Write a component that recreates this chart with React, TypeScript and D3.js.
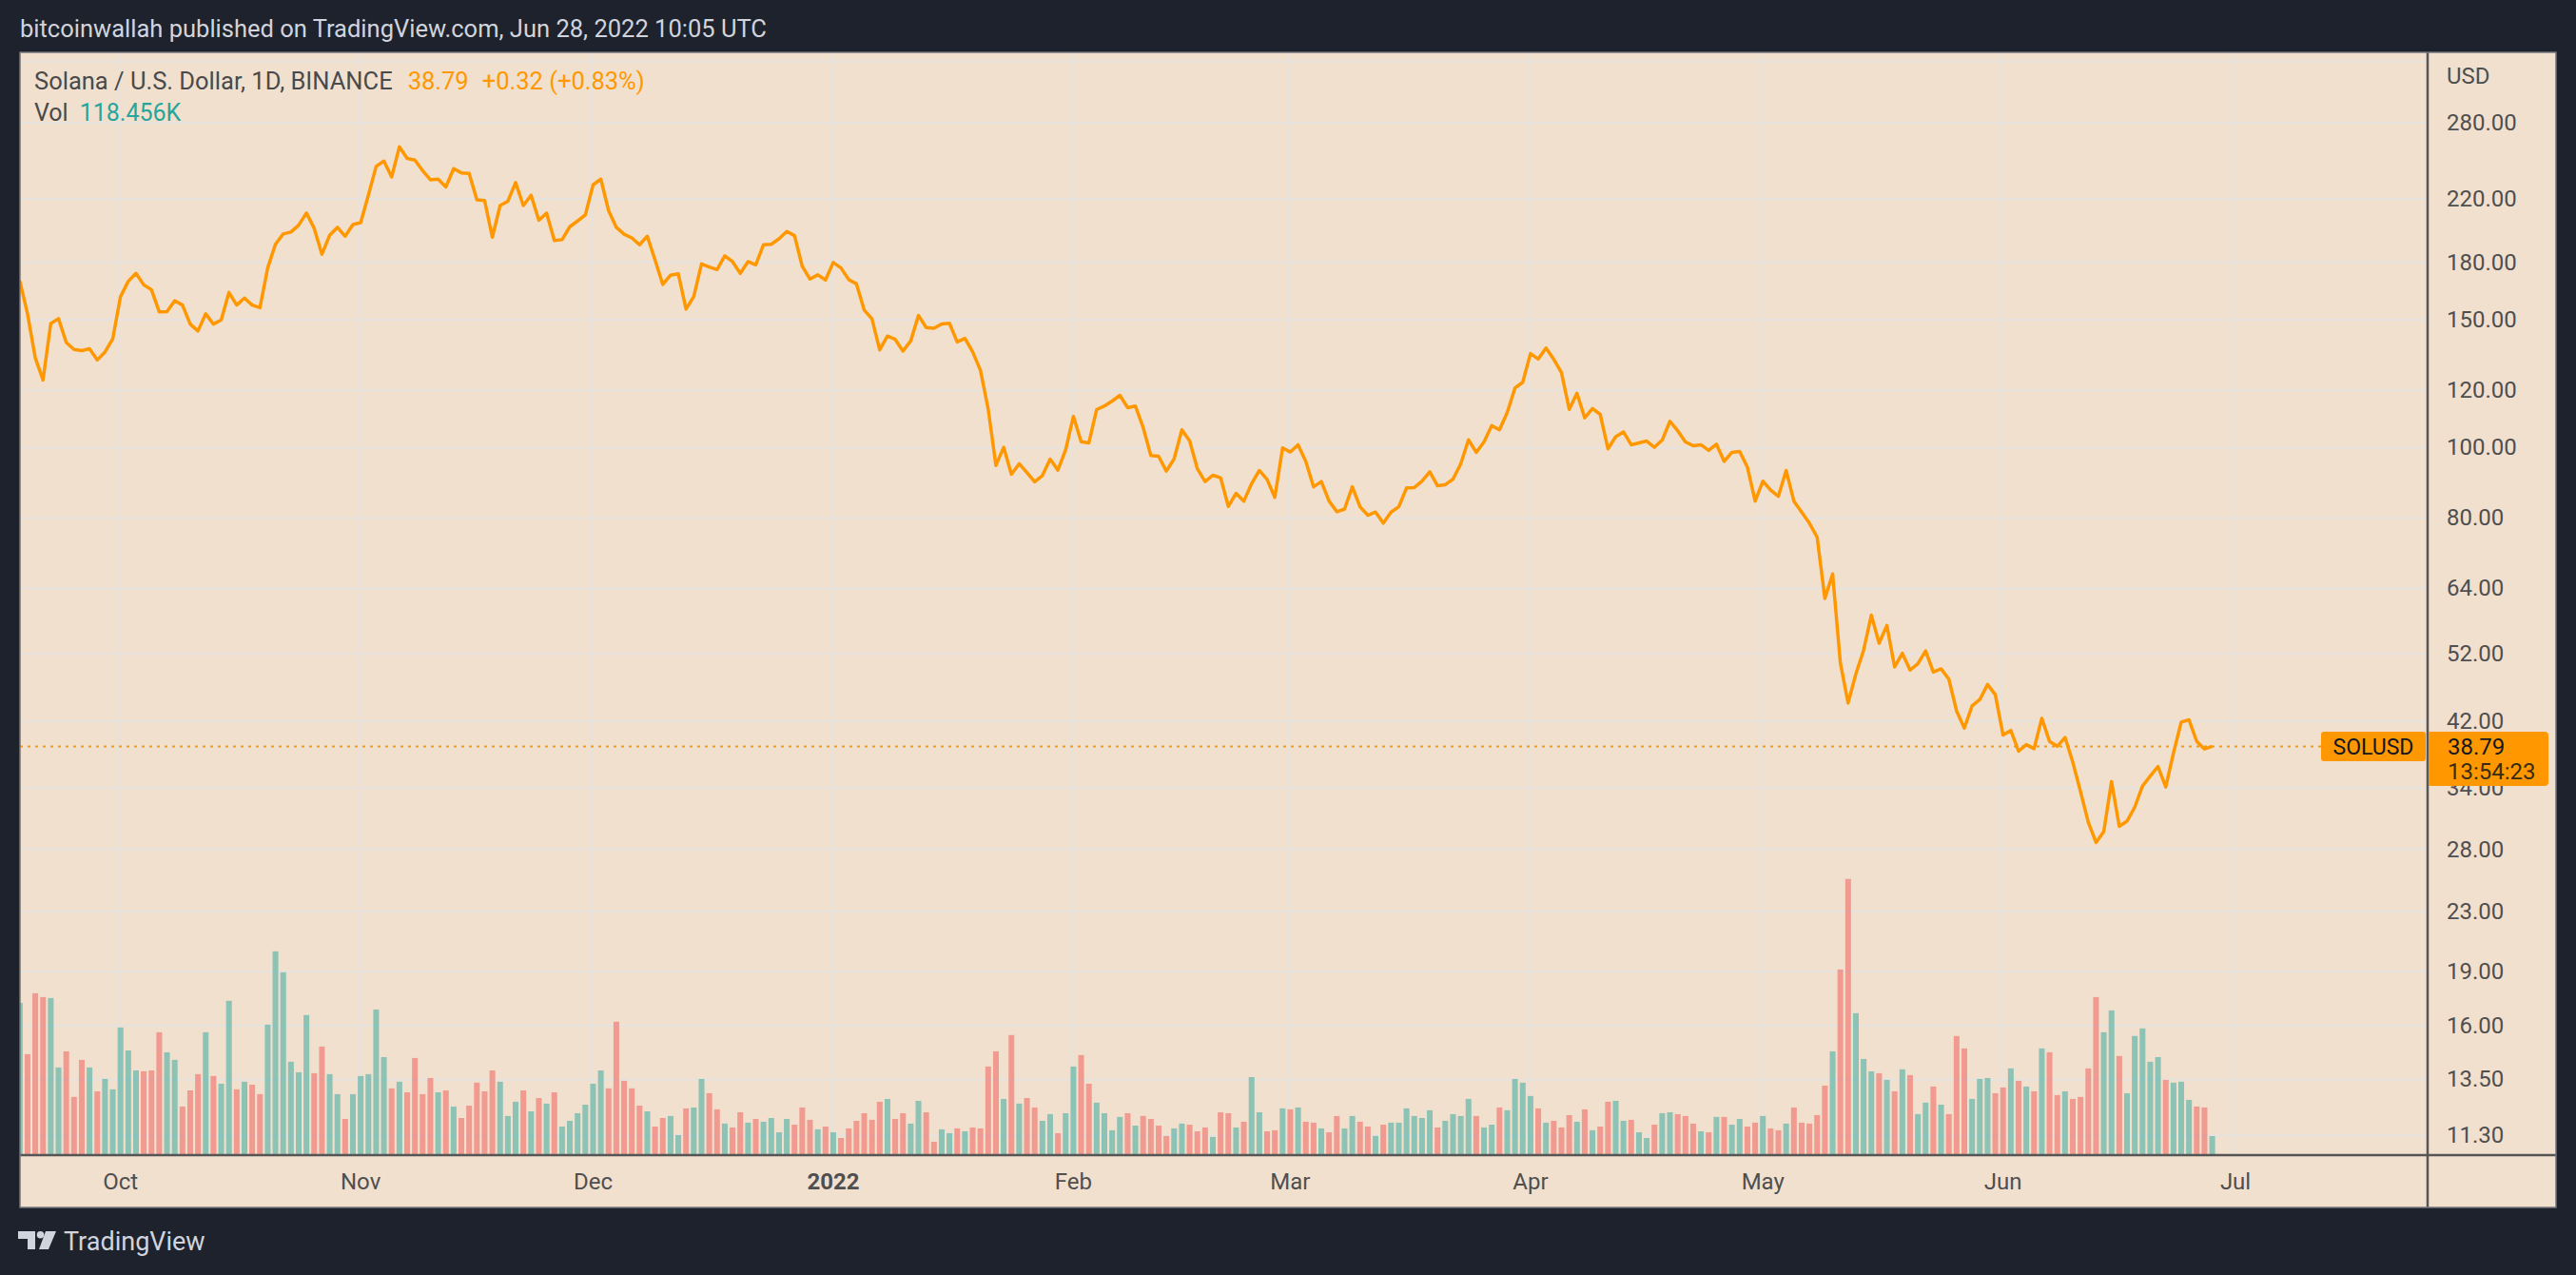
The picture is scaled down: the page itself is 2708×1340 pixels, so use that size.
import React, { useRef, useEffect } from "react";
import * as d3 from "d3";

// SOLUSD daily closes, Sep 18 2021 .. Jun 28 2022 (BINANCE, 1D)
const startDate = Date.UTC(2021, 8, 18);

const closes = [
	169.7, 152.8, 132.9, 123.9, 148.2, 150.5, 139.5, 136.5, 136.0, 136.8,
	132.0, 135.4, 141.2, 161.4, 169.4, 173.7, 167.5, 164.9, 153.8, 153.9,
	159.3, 157.1, 147.9, 144.7, 152.8, 147.9, 149.9, 163.5, 157.1, 160.6,
	157.1, 155.8, 176.7, 190.5, 196.8, 198.0, 202.4, 210.3, 200.4, 184.6,
	196.0, 201.0, 195.4, 202.8, 204.0, 222.7, 243.8, 248.0, 235.8, 259.4,
	250.0, 248.7, 240.6, 233.7, 234.2, 228.4, 242.1, 238.9, 238.4, 219.3,
	218.8, 194.8, 215.4, 218.3, 231.6, 215.4, 222.5, 205.5, 210.3, 192.8,
	193.3, 201.4, 205.1, 209.0, 230.0, 234.2, 212.0, 201.0, 196.7, 194.4,
	190.2, 195.4, 181.2, 167.7, 172.7, 173.5, 155.1, 161.4, 179.0, 177.2,
	175.8, 183.6, 180.3, 173.7, 180.3, 178.5, 190.2, 190.5, 193.8, 198.4,
	195.8, 177.6, 170.6, 172.9, 170.1, 179.8, 176.7, 170.3, 168.0, 154.6,
	150.4, 136.3, 142.4, 140.9, 135.8, 140.2, 152.0, 146.3, 146.0, 148.0,
	148.3, 139.8, 141.4, 135.4, 127.8, 113.0, 94.5, 100.1, 91.9, 95.0,
	92.4, 89.7, 91.5, 96.4, 93.1, 99.3, 110.4, 101.9, 101.5, 112.8,
	114.1, 115.9, 118.0, 113.5, 114.1, 106.6, 97.5, 97.3, 92.8, 96.5,
	105.8, 102.2, 93.5, 89.8, 91.6, 90.9, 83.0, 86.5, 84.4, 89.2,
	93.0, 90.4, 85.4, 99.9, 98.6, 100.9, 95.7, 88.3, 89.8, 84.4,
	81.6, 82.3, 88.3, 82.9, 80.7, 81.5, 78.7, 81.5, 82.9, 88.0,
	88.1, 89.9, 92.6, 88.6, 88.9, 90.5, 95.0, 102.5, 98.5, 101.8,
	107.2, 105.8, 111.8, 120.8, 123.0, 134.7, 132.4, 137.1, 132.3, 126.8,
	112.9, 118.8, 109.9, 113.2, 111.1, 99.6, 103.5, 105.1, 100.9, 101.5,
	102.1, 100.1, 102.4, 108.7, 105.5, 101.8, 100.6, 100.9, 99.1, 101.1,
	95.7, 98.5, 98.8, 94.0, 84.4, 89.9, 87.4, 85.7, 93.0, 84.4,
	81.5, 78.7, 75.3, 62.0, 67.0, 50.5, 44.5, 48.8, 52.6, 58.8,
	53.8, 56.9, 49.9, 52.1, 49.4, 50.4, 52.5, 49.1, 49.6, 48.0,
	43.4, 41.1, 44.1, 45.0, 47.2, 45.7, 40.2, 40.8, 38.2, 39.0,
	38.5, 42.4, 39.4, 38.8, 39.9, 36.9, 33.6, 30.5, 28.6, 29.6,
	34.7, 30.1, 30.6, 32.0, 34.2, 35.3, 36.4, 34.1, 38.0, 41.9,
	42.2, 39.4, 38.47, 38.79,
];

// daily volume, thousands of SOL
const volumes = [
	978, 647, 1040, 1015, 1009, 561, 665, 371, 610, 561,
	407, 487, 420, 819, 671, 542, 536, 542, 788, 659,
	610, 309, 413, 518, 788, 506, 456, 991, 420, 469,
	450, 389, 837, 1310, 1175, 598, 530, 899, 524, 696,
	518, 389, 229, 389, 506, 518, 935, 628, 426, 469,
	401, 622, 389, 493, 401, 413, 309, 235, 315, 463,
	407, 542, 469, 248, 340, 413, 278, 364, 328, 401,
	180, 217, 266, 321, 456, 542, 426, 856, 475, 426,
	315, 278, 180, 235, 248, 125, 297, 303, 487, 395,
	291, 199, 174, 272, 205, 229, 211, 235, 143, 229,
	192, 303, 223, 162, 180, 143, 106, 168, 217, 266,
	223, 340, 358, 229, 266, 199, 346, 272, 82, 162,
	137, 168, 149, 174, 168, 567, 665, 358, 770, 328,
	364, 303, 217, 260, 137, 266, 567, 641, 456, 334,
	266, 156, 242, 266, 186, 248, 229, 186, 119, 168,
	199, 192, 149, 174, 113, 272, 266, 174, 211, 499,
	272, 149, 156, 297, 291, 303, 211, 205, 168, 143,
	248, 168, 248, 211, 180, 119, 192, 205, 205, 297,
	248, 235, 285, 174, 217, 260, 248, 358, 248, 174,
	192, 303, 285, 487, 463, 377, 297, 205, 217, 174,
	254, 211, 291, 156, 180, 340, 346, 217, 223, 143,
	106, 192, 266, 272, 260, 248, 199, 149, 143, 242,
	242, 192, 229, 180, 205, 248, 168, 156, 199, 303,
	205, 199, 254, 444, 665, 1193, 1777, 911, 616, 536,
	524, 481, 407, 549, 512, 260, 334, 438, 321, 260,
	764, 684, 358, 487, 493, 395, 432, 555, 475, 438,
	407, 684, 659, 383, 407, 358, 371, 555, 1015, 788,
	929, 635, 395, 764, 813, 598, 628, 481, 463, 469,
	352, 309, 303, 118.456,
];

const priceTicks = [280, 220, 180, 150, 120, 100, 80, 64, 52, 42, 34, 28, 23, 19, 16, 13.5, 11.3];
const unlabelledGrid = [340];

const timeLabels = ["Oct", "Nov", "Dec", "2022", "Feb", "Mar", "Apr", "May", "Jun", "Jul"];
const timeTicks = [
	Date.UTC(2021, 9, 1), Date.UTC(2021, 10, 1), Date.UTC(2021, 11, 1), Date.UTC(2022, 0, 1),
	Date.UTC(2022, 1, 1), Date.UTC(2022, 2, 1), Date.UTC(2022, 3, 1), Date.UTC(2022, 4, 1),
	Date.UTC(2022, 5, 1), Date.UTC(2022, 6, 1),
];

const W = 2708;
const H = 1340;
const FONT = "Roboto, 'Noto Sans', sans-serif";

// pane geometry
const frameL = 21, frameT = 55, frameR = 2687, frameB = 1269;
const paneR = 2552, paneB = 1214;

const App: React.FC = () => {
	const svgRef = useRef<SVGSVGElement | null>(null);

	useEffect(() => {
		if (!svgRef.current) return;
		const svg = d3.select(svgRef.current);
		svg.selectAll("*").remove();

		const dates = closes.map((_, i) => new Date(startDate + i * 86400000));
		const x = d3.scaleUtc()
			.domain([dates[0], dates[dates.length - 1]])
			.range([20.8, 2325.6]);
		const y = d3.scaleLog().domain([280, 11.3]).range([129, 1193.4]);
		const yVol = d3.scaleLinear().domain([0, 1800]).range([1213.3, 920]);

		svg.append("rect").attr("width", W).attr("height", H).attr("fill", "#1e222d");

		svg.append("text")
			.attr("x", 21).attr("y", 39)
			.attr("font-family", FONT).attr("font-size", 25.5)
			.attr("fill", "#d1d4dc")
			.text("bitcoinwallah published on TradingView.com, Jun 28, 2022 10:05 UTC");

		svg.append("rect")
			.attr("x", frameL).attr("y", frameT)
			.attr("width", frameR - frameL).attr("height", frameB - frameT)
			.attr("fill", "#f2e0cf");

		const defs = svg.append("defs");
		defs.append("clipPath").attr("id", "pane")
			.append("rect")
			.attr("x", frameL).attr("y", frameT)
			.attr("width", paneR - frameL).attr("height", paneB - frameT);

		// grid
		const grid = svg.append("g").attr("stroke", "#e6e2dd").attr("stroke-width", 2);
		grid.selectAll("line.h")
			.data([...unlabelledGrid, ...priceTicks])
			.enter().append("line")
			.attr("x1", frameL).attr("x2", paneR)
			.attr("y1", (d) => y(d)).attr("y2", (d) => y(d));
		grid.selectAll("line.v")
			.data(timeTicks)
			.enter().append("line")
			.attr("x1", (d) => x(new Date(d)) - 1.5).attr("x2", (d) => x(new Date(d)) - 1.5)
			.attr("y1", frameT).attr("y2", paneB);

		const pane = svg.append("g").attr("clip-path", "url(#pane)");

		// volume
		pane.selectAll("rect.vol")
			.data(volumes)
			.enter().append("rect")
			.attr("x", (_, i) => x(dates[i]) - 3)
			.attr("width", 6)
			.attr("y", (d) => yVol(d))
			.attr("height", (d) => yVol(0) - yVol(d))
			.attr("fill", (_, i) =>
				i === 0 || closes[i] >= closes[i - 1]
					? "rgba(38,166,154,0.5)"
					: "rgba(239,83,80,0.5)"
			);

		// last price line
		const last = closes[closes.length - 1];
		pane.append("line")
			.attr("x1", frameL).attr("x2", 2440)
			.attr("y1", y(last)).attr("y2", y(last))
			.attr("stroke", "#ff9800").attr("stroke-width", 2)
			.attr("stroke-dasharray", "3 5");

		const line = d3.line<number>()
			.x((_, i) => x(dates[i]))
			.y((d) => y(d));
		pane.append("path")
			.datum(closes)
			.attr("d", line)
			.attr("fill", "none")
			.attr("stroke", "#ff9800")
			.attr("stroke-width", 3.5)
			.attr("stroke-linejoin", "round");

		// axis separators + frame
		const axisCol = "#555555";
		svg.append("line")
			.attr("x1", paneR).attr("x2", paneR).attr("y1", frameT).attr("y2", frameB)
			.attr("stroke", axisCol).attr("stroke-width", 2.5);
		svg.append("line")
			.attr("x1", frameL).attr("x2", frameR).attr("y1", paneB).attr("y2", paneB)
			.attr("stroke", axisCol).attr("stroke-width", 2.5);
		svg.append("rect")
			.attr("x", frameL).attr("y", frameT)
			.attr("width", frameR - frameL).attr("height", frameB - frameT)
			.attr("fill", "none").attr("stroke", "#74767c").attr("stroke-width", 1.5);

		// price axis labels
		const labelCol = "#4f4f4f";
		svg.append("text")
			.attr("x", 2572).attr("y", 80)
			.attr("dominant-baseline", "central")
			.attr("font-family", FONT).attr("font-size", 24).attr("fill", labelCol)
			.text("USD");
		svg.selectAll("text.price")
			.data(priceTicks)
			.enter().append("text")
			.attr("x", 2572).attr("y", (d) => y(d))
			.attr("dominant-baseline", "central")
			.attr("font-family", FONT).attr("font-size", 24).attr("fill", labelCol)
			.text((d) => d.toFixed(2));

		// time axis labels
		svg.selectAll("text.time")
			.data(timeTicks)
			.enter().append("text")
			.attr("x", (d) => x(new Date(d)))
			.attr("y", 1242)
			.attr("text-anchor", "middle")
			.attr("dominant-baseline", "central")
			.attr("font-family", FONT).attr("font-size", 24)
			.attr("font-weight", (_, i) => (timeLabels[i] === "2022" ? "bold" : "normal"))
			.attr("fill", labelCol)
			.text((_, i) => timeLabels[i]);

		// legend
		const legend1 = svg.append("text")
			.attr("x", 36).attr("y", 94)
			.attr("font-family", FONT).attr("font-size", 25.5).attr("fill", "#4a4a4a");
		legend1.append("tspan").text("Solana / U.S. Dollar, 1D, BINANCE");
		legend1.append("tspan").attr("dx", 16).attr("fill", "#ff9800").text("38.79");
		legend1.append("tspan").attr("dx", 14).attr("fill", "#ff9800").text("+0.32 (+0.83%)");

		const legend2 = svg.append("text")
			.attr("x", 36).attr("y", 127)
			.attr("font-family", FONT).attr("font-size", 25).attr("fill", "#4a4a4a");
		legend2.append("tspan").text("Vol");
		legend2.append("tspan").attr("dx", 12).attr("fill", "#26a69a").text("118.456K");

		// last price tags (drawn over the axis labels, as in the original)
		const ly = y(last);
		svg.append("rect")
			.attr("x", 2440).attr("y", ly - 15.5).attr("width", 110).attr("height", 31)
			.attr("rx", 3).attr("fill", "#ff9800");
		svg.append("text")
			.attr("x", 2495).attr("y", ly + 1)
			.attr("text-anchor", "middle").attr("dominant-baseline", "central")
			.attr("font-family", FONT).attr("font-size", 23).attr("fill", "#131722")
			.text("SOLUSD");
		svg.append("rect")
			.attr("x", 2553).attr("y", ly - 15.5).attr("width", 126).attr("height", 57)
			.attr("rx", 4).attr("fill", "#ff9800");
		svg.append("rect")
			.attr("x", 2553).attr("y", ly - 15.5).attr("width", 10).attr("height", 57)
			.attr("fill", "#ff9800");
		svg.append("text")
			.attr("x", 2573).attr("y", ly + 1)
			.attr("dominant-baseline", "central")
			.attr("font-family", FONT).attr("font-size", 24).attr("fill", "#131722")
			.text(last.toFixed(2));
		svg.append("text")
			.attr("x", 2573).attr("y", ly + 27)
			.attr("dominant-baseline", "central")
			.attr("font-family", FONT).attr("font-size", 24).attr("fill", "#3a2c14")
			.text("13:54:23");

		// footer logo
		const logo = svg.append("g").attr("fill", "#d1d4dc");
		logo.append("path").attr("d", "M19 1294 H37 V1313 H29 V1302 H19 Z");
		logo.append("circle").attr("cx", 42.5).attr("cy", 1297.8).attr("r", 3.8);
		logo.append("path").attr("d", "M48 1294 H59 L51 1313 H41 Z");
		svg.append("text")
			.attr("x", 67).attr("y", 1314)
			.attr("font-family", FONT).attr("font-size", 27).attr("fill", "#d1d4dc")
			.text("TradingView");
	}, []);

	return (
		<div style={{ position: "absolute", left: 0, top: 0 }}>
			<svg ref={svgRef} width={W} height={H} style={{ display: "block" }} />
		</div>
	);
};

export default App;
